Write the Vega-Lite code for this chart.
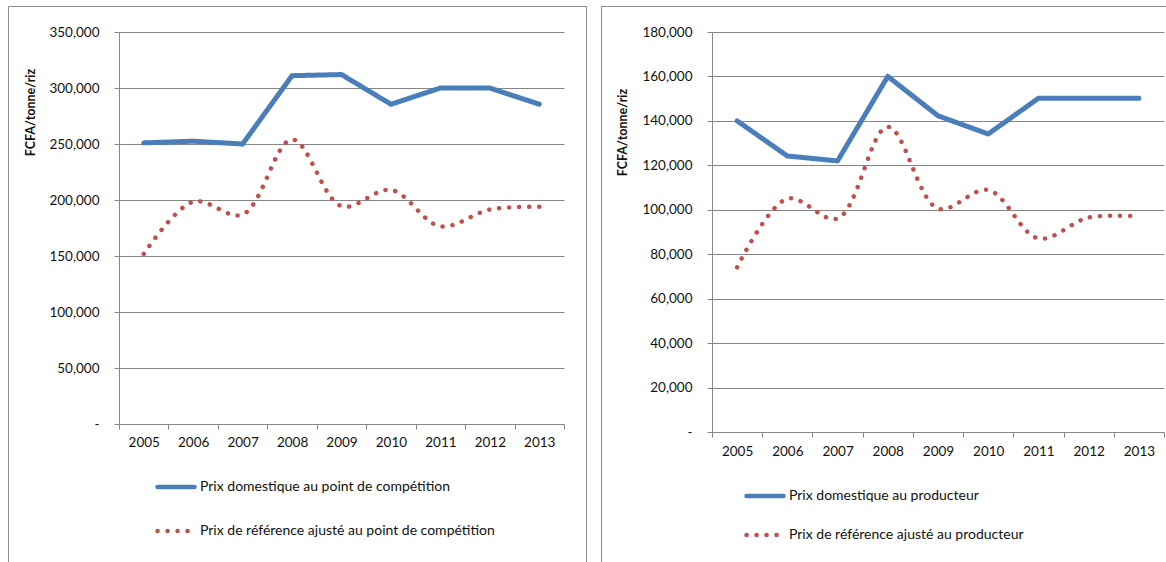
{
  "$schema": "https://vega.github.io/schema/vega-lite/v6.json",
  "padding": {"left": 7, "top": 5, "right": 0, "bottom": 0},
  "spacing": 13,
  "config": {
    "font": "Lato",
    "view": {"stroke": "#8c8c8c", "strokeWidth": 1},
    "axis": {
      "labelFont": "Lato", "labelFontSize": 13.5, "labelColor": "#111111",
      "domainColor": "#868686", "tickColor": "#868686", "gridColor": "#868686",
      "tickSize": 5, "titleFont": "Lato", "titleColor": "#111111"
    },
    "legend": {
      "labelFont": "Lato", "labelFontSize": 14, "labelColor": "#111111",
      "symbolType": "stroke", "symbolSize": 1369, "symbolStrokeWidth": 4.5,
      "labelLimit": 400, "padding": 0, "rowPadding": 14, "labelOffset": 3,
      "orient": "none", "direction": "vertical"
    }
  },
  "resolve": {"scale": {"color": "independent", "strokeDash": "independent"}, "legend": {"color": "independent", "strokeDash": "independent"}},
  "hconcat": [
    {
      "width": 578, "height": 557,
      "data": {"values": [
        {"year": "2005", "series": "Prix domestique au point de compétition", "value": 251000},
        {"year": "2006", "series": "Prix domestique au point de compétition", "value": 252500},
        {"year": "2007", "series": "Prix domestique au point de compétition", "value": 250000},
        {"year": "2008", "series": "Prix domestique au point de compétition", "value": 311000},
        {"year": "2009", "series": "Prix domestique au point de compétition", "value": 312000},
        {"year": "2010", "series": "Prix domestique au point de compétition", "value": 285500},
        {"year": "2011", "series": "Prix domestique au point de compétition", "value": 300000},
        {"year": "2012", "series": "Prix domestique au point de compétition", "value": 300000},
        {"year": "2013", "series": "Prix domestique au point de compétition", "value": 285500},
        {"year": "2005", "series": "Prix de référence ajusté au point de compétition", "value": 151800},
        {"year": "2006", "series": "Prix de référence ajusté au point de compétition", "value": 198500},
        {"year": "2007", "series": "Prix de référence ajusté au point de compétition", "value": 187000},
        {"year": "2008", "series": "Prix de référence ajusté au point de compétition", "value": 254000},
        {"year": "2009", "series": "Prix de référence ajusté au point de compétition", "value": 194500},
        {"year": "2010", "series": "Prix de référence ajusté au point de compétition", "value": 209000},
        {"year": "2011", "series": "Prix de référence ajusté au point de compétition", "value": 176500},
        {"year": "2012", "series": "Prix de référence ajusté au point de compétition", "value": 191500},
        {"year": "2013", "series": "Prix de référence ajusté au point de compétition", "value": 194000}
      ]},
      "encoding": {
        "x": {"field": "year", "type": "ordinal",
          "scale": {"type": "band", "range": [111, 556], "paddingInner": 0, "paddingOuter": 0},
          "axis": {"title": null, "offset": -139, "labelAngle": 0, "tickBand": "extent", "labelPadding": 6, "grid": false}},
        "y": {"field": "value", "type": "quantitative",
          "scale": {"domain": [0, 350000], "range": [418, 26], "nice": false, "zero": true},
          "axis": {"title": "FCFA/tonne/riz", "offset": -111, "values": [0, 50000, 100000, 150000, 200000, 250000, 300000, 350000],
            "labelExpr": "datum.value === 0 ? '-' : format(datum.value, ',')", "labelPadding": 15, "grid": true,
            "titleFontSize": 12.5, "titleFontWeight": "bold", "titleX": -89, "titleY": 106, "titleAngle": -90, "titleAlign": "center", "titleBaseline": "middle"}},
        "color": {"field": "series", "type": "nominal",
          "scale": {"domain": ["Prix domestique au point de compétition", "Prix de référence ajusté au point de compétition"], "range": ["#4a7ebb", "#c0504d"]},
          "legend": {"title": null, "legendX": 147, "legendY": 460, "encode": {"symbols": {"update": {"strokeCap": {"value": "round"}}}}}},
        "strokeDash": {"field": "series", "type": "nominal",
          "scale": {"domain": ["Prix domestique au point de compétition", "Prix de référence ajusté au point de compétition"], "range": [[1, 0], [0.1, 9.9]]},
          "legend": {"title": null, "legendX": 147, "legendY": 460, "encode": {"symbols": {"update": {"strokeCap": {"value": "round"}}}}}}
      },
      "layer": [
        {"transform": [{"filter": "datum.series === 'Prix domestique au point de compétition'"}],
          "mark": {"type": "line", "strokeWidth": 5, "strokeJoin": "round", "strokeCap": "round"}},
        {"transform": [{"filter": "datum.series === 'Prix de référence ajusté au point de compétition'"}],
          "mark": {"type": "line", "strokeWidth": 4.5, "strokeCap": "round", "interpolate": "catmull-rom"}}
      ]
    },
    {
      "width": 568, "height": 557,
      "data": {"values": [
        {"year": "2005", "series": "Prix domestique au producteur", "value": 140000},
        {"year": "2006", "series": "Prix domestique au producteur", "value": 124200},
        {"year": "2007", "series": "Prix domestique au producteur", "value": 122000},
        {"year": "2008", "series": "Prix domestique au producteur", "value": 160000},
        {"year": "2009", "series": "Prix domestique au producteur", "value": 142300},
        {"year": "2010", "series": "Prix domestique au producteur", "value": 134100},
        {"year": "2011", "series": "Prix domestique au producteur", "value": 150200},
        {"year": "2012", "series": "Prix domestique au producteur", "value": 150200},
        {"year": "2013", "series": "Prix domestique au producteur", "value": 150200},
        {"year": "2005", "series": "Prix de référence ajusté au producteur", "value": 74100},
        {"year": "2006", "series": "Prix de référence ajusté au producteur", "value": 105000},
        {"year": "2007", "series": "Prix de référence ajusté au producteur", "value": 96100},
        {"year": "2008", "series": "Prix de référence ajusté au producteur", "value": 137300},
        {"year": "2009", "series": "Prix de référence ajusté au producteur", "value": 100500},
        {"year": "2010", "series": "Prix de référence ajusté au producteur", "value": 108900},
        {"year": "2011", "series": "Prix de référence ajusté au producteur", "value": 87100},
        {"year": "2012", "series": "Prix de référence ajusté au producteur", "value": 96500},
        {"year": "2013", "series": "Prix de référence ajusté au producteur", "value": 97000}
      ]},
      "encoding": {
        "x": {"field": "year", "type": "ordinal",
          "scale": {"type": "band", "range": [111, 563], "paddingInner": 0, "paddingOuter": 0},
          "axis": {"title": null, "offset": -131, "labelAngle": 0, "tickBand": "extent", "labelPadding": 7, "grid": false}},
        "y": {"field": "value", "type": "quantitative",
          "scale": {"domain": [0, 180000], "range": [426, 26], "nice": false, "zero": true},
          "axis": {"title": "FCFA/tonne/riz", "offset": -111, "values": [0, 20000, 40000, 60000, 80000, 100000, 120000, 140000, 160000, 180000],
            "labelExpr": "datum.value === 0 ? '-' : format(datum.value, ',')", "labelPadding": 15, "grid": true,
            "titleFontSize": 12.5, "titleFontWeight": "bold", "titleX": -90, "titleY": 126, "titleAngle": -90, "titleAlign": "center", "titleBaseline": "middle"}},
        "color": {"field": "series", "type": "nominal",
          "scale": {"domain": ["Prix domestique au producteur", "Prix de référence ajusté au producteur"], "range": ["#4a7ebb", "#c0504d"]},
          "legend": {"title": null, "legendX": 143, "legendY": 469, "rowPadding": 9, "encode": {"symbols": {"update": {"strokeCap": {"value": "round"}}}}}},
        "strokeDash": {"field": "series", "type": "nominal",
          "scale": {"domain": ["Prix domestique au producteur", "Prix de référence ajusté au producteur"], "range": [[1, 0], [0.1, 9.9]]},
          "legend": {"title": null, "legendX": 143, "legendY": 469, "rowPadding": 9, "encode": {"symbols": {"update": {"strokeCap": {"value": "round"}}}}}}
      },
      "layer": [
        {"transform": [{"filter": "datum.series === 'Prix domestique au producteur'"}],
          "mark": {"type": "line", "strokeWidth": 5, "strokeJoin": "round", "strokeCap": "round"}},
        {"transform": [{"filter": "datum.series === 'Prix de référence ajusté au producteur'"}],
          "mark": {"type": "line", "strokeWidth": 4.5, "strokeCap": "round", "interpolate": "catmull-rom"}}
      ]
    }
  ]
}
